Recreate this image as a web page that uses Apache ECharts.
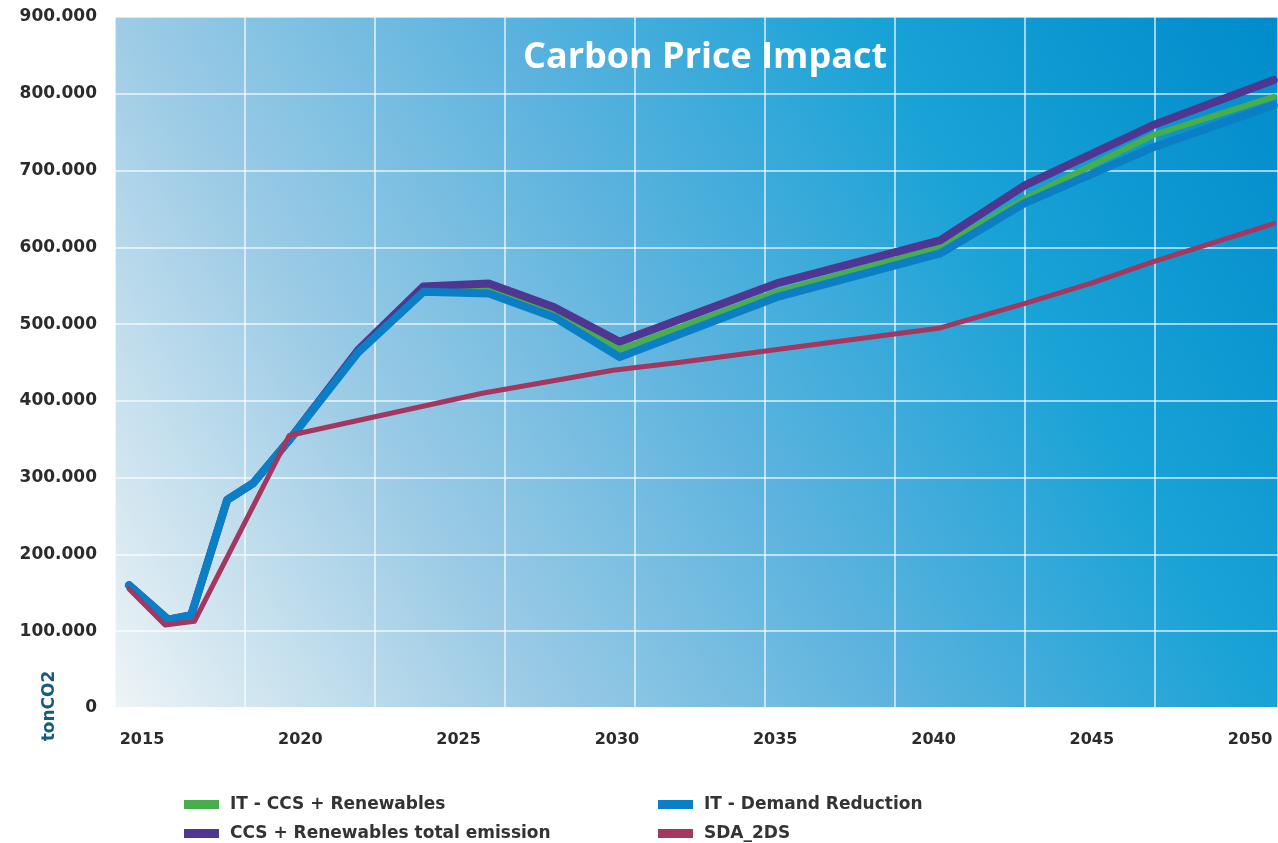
<!DOCTYPE html>
<html>
<head>
<meta charset="utf-8">
<script src="https://cdn.jsdelivr.net/npm/echarts@6/dist/echarts.min.js"></script>
<style>
html,body{margin:0;padding:0;background:#fff;}
#chart{width:1278px;height:843px;}
</style>
</head>
<body>
<div id="chart"></div>
<script>
// years on the x axis (points are not evenly spaced in the source chart)
var scenarioYears = [2015, 2016.2, 2016.9, 2018, 2018.8, 2019.9, 2022, 2024, 2026, 2028, 2030, 2034.8, 2039.8, 2042.4, 2046.3, 2050]
var sdaYears = [2015, 2016.1, 2017, 2019.9, 2025.8, 2029.8, 2031.8, 2039.8, 2042.4, 2044.4, 2046.3, 2050]

// tonCO2
var itCcsRenewables = [160000, 115000, 121000, 271000, 293000, 349000, 465000, 546000, 547000, 516000, 467000, 542000, 600000, 664000, 746000, 796000]
var itDemandReduction = [160000, 115000, 121000, 271000, 293000, 349000, 463000, 542000, 540000, 509000, 457000, 535000, 592000, 658000, 730000, 785000]
var ccsRenewablesTotal = [160000, 115000, 121000, 271000, 293000, 349000, 466000, 549000, 553000, 522000, 477000, 553000, 609000, 681000, 759000, 818000]
var sda2ds = [155000, 108000, 113000, 355000, 410000, 440000, 450000, 495000, 527000, 553000, 581000, 631000]

var yearLabels = [2015, 2020, 2025, 2030, 2035, 2040, 2045, 2050]

function pairs(xs, ys){
  return xs.map(function(x, i){ return [x, ys[i]] })
}
function dotted(v){
  return String(v).replace(/\B(?=(\d{3})+(?!\d))/g, '.')
}

var chart = echarts.init(document.getElementById('chart'))
var lbl = {fontFamily: 'DejaVu Sans', fontWeight: 'bold', fontSize: 17, color: '#2b2b2b'}

// one legend per item so they sit in a 2x2 block
function legendAt(name, left, top){
  return {
    left: left, top: top, itemWidth: 35, itemHeight: 9, icon: 'rect', itemGap: 0,
    data: [name],
    textStyle: {fontFamily: 'DejaVu Sans', fontWeight: 'bold', fontSize: 17, color: '#333', padding: [0, 0, 0, 6]}
  }
}

var option = {
  animation: false,
  title: {
    text: 'Carbon Price Impact',
    left: 700, top: 35, textAlign: 'center',
    textStyle: {color: '#fff', fontFamily: 'Open Sans', fontWeight: 'bold', fontSize: 36}
  },
  grid: {
    left: 115, top: 17, right: 0, bottom: 135,
    show: true, borderWidth: 0,
    backgroundColor: new echarts.graphic.LinearGradient(0, 1, 1, 0, [
      {offset: 0, color: '#eef4f6'},
      {offset: 0.26, color: '#9ecce6'},
      {offset: 0.5, color: '#5cb3de'},
      {offset: 0.74, color: '#18a2d6'},
      {offset: 1, color: '#008bcb'}
    ])
  },
  legend: [
    legendAt('IT - CCS + Renewables', 179, 791),
    legendAt('IT - Demand Reduction', 653, 791),
    legendAt('CCS + Renewables total emission', 179, 820),
    legendAt('SDA_2DS', 653, 820)
  ],
  xAxis: [
    {
      type: 'value', position: 'bottom', min: 2014.57, max: 2050.13,
      axisLine: {show: true, lineStyle: {color: 'rgba(255,255,255,0.7)', width: 2}},
      axisTick: {show: false}, axisLabel: {show: false}, splitLine: {show: false}
    },
    {
      type: 'value', position: 'top', min: 0, max: 8.946, interval: 1,
      axisLine: {show: false}, axisTick: {show: false}, axisLabel: {show: false},
      splitLine: {show: true, lineStyle: {color: 'rgba(255,255,255,0.8)', width: 1.5}}
    },
    {
      type: 'value', position: 'bottom', min: 2014.147, max: 2050.88,
      axisLine: {show: false}, axisTick: {show: false}, splitLine: {show: false},
      axisLabel: Object.assign({show: true, margin: 24, customValues: yearLabels,
        formatter: function(v){ return String(v) }}, lbl, {fontSize: 16})
    }
  ],
  yAxis: {
    type: 'value', min: 0, max: 900000, interval: 100000,
    axisLine: {show: false}, axisTick: {show: false},
    axisLabel: Object.assign({margin: 18, formatter: dotted}, lbl),
    splitLine: {show: true, lineStyle: {color: 'rgba(255,255,255,0.8)', width: 1.5}}
  },
  graphic: [{
    type: 'text', x: 50, y: 706, rotation: Math.PI / 2,
    style: {
      text: 'tonCO2', fill: '#165c7c', align: 'center', verticalAlign: 'middle',
      font: 'bold 17px "DejaVu Sans"'
    }
  }],
  series: [
    {
      name: 'IT - CCS + Renewables', type: 'line', xAxisIndex: 0, z: 2,
      showSymbol: false, color: '#48ad4c',
      lineStyle: {width: 6, cap: 'round', join: 'round'},
      data: pairs(scenarioYears, itCcsRenewables)
    },
    {
      name: 'CCS + Renewables total emission', type: 'line', xAxisIndex: 0, z: 3,
      showSymbol: false, color: '#4f3791',
      lineStyle: {width: 8, cap: 'round', join: 'round'},
      data: pairs(scenarioYears, ccsRenewablesTotal)
    },
    {
      name: 'IT - Demand Reduction', type: 'line', xAxisIndex: 0, z: 4,
      showSymbol: false, color: '#0a7fc6',
      lineStyle: {width: 8, cap: 'round', join: 'round'},
      data: pairs(scenarioYears, itDemandReduction)
    },
    {
      name: 'SDA_2DS', type: 'line', xAxisIndex: 0, z: 5,
      showSymbol: false, color: '#a3375f',
      lineStyle: {width: 5, cap: 'round', join: 'round'},
      data: pairs(sdaYears, sda2ds)
    }
  ]
}
chart.setOption(option)
</script>
</body>
</html>
